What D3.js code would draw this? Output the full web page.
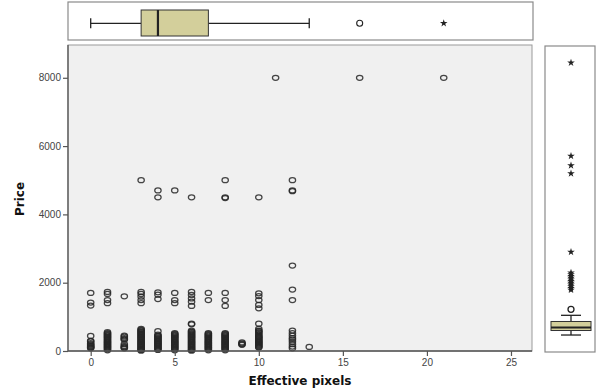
<!DOCTYPE html>
<html>
<head>
<meta charset="utf-8">
<script src="https://cdn.jsdelivr.net/npm/d3@7"></script>
<style>
  html, body { margin: 0; padding: 0; background: #fff; }
  svg { display: block; }
</style>
</head>
<body>
<svg id="chart" width="603" height="392"></svg>
<script>
// Effective pixels (x) and the prices observed at each value
const pixelValues = [0, 1, 2, 3, 4, 5, 6, 7, 8, 9, 10, 11, 12, 13, 16, 21];
const pricesAtPixels = [
  [1700, 1420, 1330, 440, 300, 280, 230, 200, 170, 140, 120, 100, 80],
  [1730, 1670, 1490, 1400, 550, 520, 500, 470, 450, 420, 400, 370, 350, 320, 300, 270, 250, 220, 200, 170, 150, 120, 100, 70, 50, 20],
  [1600, 450, 420, 380, 350, 330, 200, 150, 120, 100, 80],
  [5000, 1730, 1670, 1590, 1490, 1400, 650, 620, 600, 570, 550, 520, 500, 470, 450, 420, 400, 370, 350, 320, 300, 270, 250, 220, 200, 170, 150, 120, 100, 70, 50, 30, 10],
  [4700, 4500, 1720, 1650, 1520, 580, 480, 450, 430, 400, 380, 350, 330, 300, 280, 250, 230, 200, 180, 150, 130, 100, 80, 50, 30],
  [4700, 1700, 1490, 1400, 520, 500, 470, 450, 420, 400, 370, 350, 320, 300, 270, 250, 220, 200, 170, 150, 120, 100, 70, 50, 20],
  [4500, 1730, 1640, 1540, 1445, 1320, 800, 780, 600, 570, 550, 520, 500, 470, 450, 420, 400, 370, 350, 320, 300, 270, 250, 220, 200, 170, 150, 120, 100, 70, 50, 30, 10],
  [1700, 1490, 520, 500, 470, 450, 420, 400, 370, 350, 320, 300, 270, 250, 220, 200, 170, 150, 120, 100, 70, 50, 20],
  [5000, 4500, 4480, 1700, 1490, 1320, 520, 500, 470, 450, 420, 400, 370, 350, 320, 300, 270, 250, 220, 200, 170, 150, 120, 100, 70, 50, 20],
  [250, 220, 200, 180],
  [4500, 1690, 1610, 1490, 1350, 1250, 800, 650, 600, 580, 550, 520, 480, 450, 420, 400, 370, 350, 320, 300, 270, 250, 220, 200, 170, 150, 120, 100],
  [8000],
  [5000, 4700, 4680, 2500, 1800, 1490, 600, 520, 450, 380, 330, 270, 200, 130, 80],
  [120],
  [8000],
  [8000]
];

// Box plot summary for effective pixels (top margin)
const pixelBox = { low: 0, q1: 3, median: 4, q3: 7, high: 13 };
const pixelOutliers = [16];
const pixelExtremes = [21];

// Box plot summary for price (right margin)
const priceBox = { low: 468, q1: 600, median: 688, q3: 864, high: 1045 };
const priceOutliers = [1221];
const priceExtremes = [1790, 1840, 1890, 1940, 1990, 2040, 2090, 2140, 2190, 2240, 2290, 2900, 5200, 5430, 5710, 8440];

// Axis ticks
const xTicks = [0, 5, 10, 15, 20, 25];
const yTicks = [0, 2000, 4000, 6000, 8000];

const svg = d3.select("#chart");

const main = { left: 68, right: 532, top: 45, bottom: 351 };
const topPanel = { left: 68, right: 533, top: 2, bottom: 40 };
const rightPanel = { left: 545, right: 595, top: 46, bottom: 352 };

const x = d3.scaleLinear().domain([-1.35, 26.25]).range([main.left, main.right]);
const y = d3.scaleLinear().domain([0, 8960]).range([main.bottom, main.top]);

const boxFill = "#d3cf9b";
const ink = "#222";

// Main panel background
svg.append("rect")
  .attr("x", main.left).attr("y", main.top)
  .attr("width", main.right - main.left).attr("height", main.bottom - main.top)
  .attr("fill", "#f0f0f0").attr("stroke", "#9a9a9a").attr("stroke-width", 1);

// Scatter points
const points = [];
pixelValues.forEach((px, i) => pricesAtPixels[i].forEach(p => points.push([px, p])));

svg.append("g").selectAll("ellipse").data(points).join("ellipse")
  .attr("cx", d => x(d[0])).attr("cy", d => y(d[1]))
  .attr("rx", 3.2).attr("ry", 2.5)
  .attr("fill", "none").attr("stroke", "#262626")
  .attr("stroke-opacity", 0.85).attr("stroke-width", 1.25);

// Axes
const xAxis = svg.append("g")
  .attr("transform", `translate(0,${main.bottom})`)
  .call(d3.axisBottom(x).tickValues(xTicks).tickSize(5).tickPadding(3));
const yAxis = svg.append("g")
  .attr("transform", `translate(${main.left},0)`)
  .call(d3.axisLeft(y).tickValues(yTicks).tickSize(5).tickPadding(2).tickFormat(d3.format("d")));

[xAxis, yAxis].forEach(g => {
  g.select(".domain").attr("stroke", "#555").attr("stroke-width", 1.3);
  g.selectAll(".tick line").attr("stroke", "#555").attr("stroke-width", 1.2);
  g.selectAll(".tick text")
    .attr("fill", "#444")
    .style("font-family", "'Liberation Sans', Arial, sans-serif")
    .style("font-size", "10px");
});
xAxis.select(".domain").attr("d", `M${main.left},0H${main.right}`);
yAxis.select(".domain").attr("d", `M0,${main.bottom}V${main.top}`);

// Axis titles
svg.append("text")
  .attr("x", 300).attr("y", 385)
  .attr("text-anchor", "middle")
  .style("font-family", "'DejaVu Sans', Verdana, sans-serif")
  .style("font-weight", "bold").style("font-size", "12px")
  .attr("fill", "#111")
  .text("Effective pixels");

svg.append("text")
  .attr("transform", "translate(24,199) rotate(-90)")
  .attr("text-anchor", "middle")
  .style("font-family", "'DejaVu Sans', Verdana, sans-serif")
  .style("font-weight", "bold").style("font-size", "12px")
  .attr("fill", "#111")
  .text("Price");

const star = d3.symbol().type(d3.symbolStar).size(18);

// Top box plot (effective pixels)
const tp = svg.append("g");
tp.append("rect")
  .attr("x", topPanel.left).attr("y", topPanel.top)
  .attr("width", topPanel.right - topPanel.left).attr("height", topPanel.bottom - topPanel.top)
  .attr("fill", "#fff").attr("stroke", "#8a8a8a").attr("stroke-width", 1.2);
const tcy = 23.3;
tp.append("line").attr("x1", x(pixelBox.low)).attr("x2", x(pixelBox.q1))
  .attr("y1", tcy).attr("y2", tcy).attr("stroke", ink).attr("stroke-width", 1.3);
tp.append("line").attr("x1", x(pixelBox.q3)).attr("x2", x(pixelBox.high))
  .attr("y1", tcy).attr("y2", tcy).attr("stroke", ink).attr("stroke-width", 1.3);
[pixelBox.low, pixelBox.high].forEach(v => tp.append("line")
  .attr("x1", x(v)).attr("x2", x(v)).attr("y1", tcy - 5).attr("y2", tcy + 5)
  .attr("stroke", ink).attr("stroke-width", 1.3));
tp.append("rect")
  .attr("x", x(pixelBox.q1)).attr("y", 10)
  .attr("width", x(pixelBox.q3) - x(pixelBox.q1)).attr("height", 26)
  .attr("fill", boxFill).attr("stroke", "#333").attr("stroke-width", 1);
tp.append("line").attr("x1", x(pixelBox.median)).attr("x2", x(pixelBox.median))
  .attr("y1", 10).attr("y2", 36).attr("stroke", ink).attr("stroke-width", 2.2);
tp.selectAll("circle.o").data(pixelOutliers).join("circle")
  .attr("cx", d => x(d)).attr("cy", tcy).attr("r", 3)
  .attr("fill", "none").attr("stroke", ink).attr("stroke-width", 1.1);
tp.selectAll("path.s").data(pixelExtremes).join("path")
  .attr("d", star).attr("transform", d => `translate(${x(d)},${tcy})`)
  .attr("fill", ink);

// Right box plot (price)
const rp = svg.append("g");
rp.append("rect")
  .attr("x", rightPanel.left).attr("y", rightPanel.top)
  .attr("width", rightPanel.right - rightPanel.left).attr("height", rightPanel.bottom - rightPanel.top)
  .attr("fill", "#fff").attr("stroke", "#8a8a8a").attr("stroke-width", 1.2);
const rcx = 571;
rp.append("line").attr("x1", rcx).attr("x2", rcx)
  .attr("y1", y(priceBox.low)).attr("y2", y(priceBox.high))
  .attr("stroke", ink).attr("stroke-width", 1.3);
[priceBox.low, priceBox.high].forEach(v => rp.append("line")
  .attr("x1", rcx - 10).attr("x2", rcx + 10).attr("y1", y(v)).attr("y2", y(v))
  .attr("stroke", ink).attr("stroke-width", 1.3));
rp.append("rect")
  .attr("x", rcx - 20).attr("y", y(priceBox.q3))
  .attr("width", 40).attr("height", y(priceBox.q1) - y(priceBox.q3))
  .attr("fill", boxFill).attr("stroke", "#333").attr("stroke-width", 1);
rp.append("line").attr("x1", rcx - 20).attr("x2", rcx + 20)
  .attr("y1", y(priceBox.median)).attr("y2", y(priceBox.median))
  .attr("stroke", ink).attr("stroke-width", 2.2);
rp.selectAll("circle.o").data(priceOutliers).join("circle")
  .attr("cx", rcx).attr("cy", d => y(d)).attr("r", 3)
  .attr("fill", "none").attr("stroke", ink).attr("stroke-width", 1.3);
rp.selectAll("path.s").data(priceExtremes).join("path")
  .attr("d", star).attr("transform", d => `translate(${rcx},${y(d)})`)
  .attr("fill", ink);
</script>
</body>
</html>
